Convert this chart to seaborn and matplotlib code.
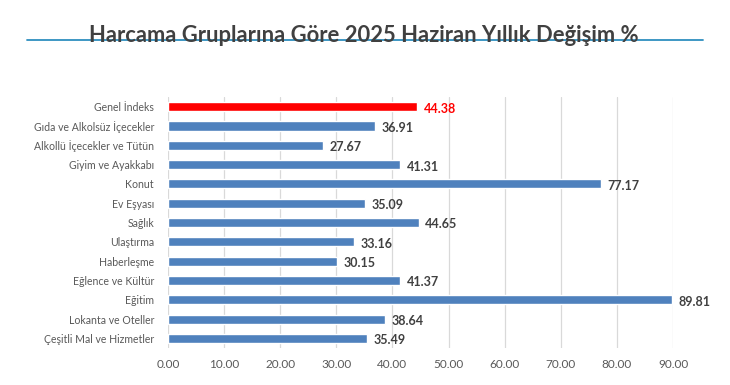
import matplotlib
matplotlib.use('Agg')
import matplotlib.pyplot as plt
import seaborn as sns
from matplotlib.lines import Line2D

categories = ['Genel İndeks', 'Gıda ve Alkolsüz İçecekler', 'Alkollü İçecekler ve Tütün',
              'Giyim ve Ayakkabı', 'Konut', 'Ev Eşyası', 'Sağlık', 'Ulaştırma',
              'Haberleşme', 'Eğlence ve Kültür', 'Eğitim', 'Lokanta ve Oteller',
              'Çeşitli Mal ve Hizmetler']
values = [44.38, 36.91, 27.67, 41.31, 77.17, 35.09, 44.65, 33.16, 30.15, 41.37, 89.81, 38.64, 35.49]
xticks = [0, 10, 20, 30, 40, 50, 60, 70, 80, 90]

sns.set_theme(style='white')
plt.rcParams['font.family'] = ['Lato', 'DejaVu Sans']

blue = '#4F81BD'
red = '#FF0000'
colors = [red] + [blue] * (len(categories) - 1)

fig = plt.figure(figsize=(7.3, 3.85), dpi=100)
ax = fig.add_axes([0.230, 0.096, 0.692, 0.652])

sns.barplot(x=values, y=categories, hue=categories, palette=colors, legend=False,
            width=0.47, saturation=1, ax=ax, zorder=3)

# value labels
for i, v in enumerate(values):
    ax.text(v + 1.2, i + 0.1, f'{v:.2f}', va='center', ha='left', fontsize=9,
            fontweight='bold', color=red if i == 0 else '#404040')

ax.set_xlim(0, 90)
ax.set_xticks(xticks)
ax.set_xticklabels([f'{t:.2f}' for t in xticks], fontsize=8.5, color='#595959')
ax.tick_params(axis='y', labelsize=7.6, labelcolor='#595959', length=0, pad=10)
ax.tick_params(axis='x', length=0, pad=8)
ax.grid(axis='x', color='#D9D9D9', linewidth=0.9, zorder=0)
ax.set_axisbelow(True)
for s in ax.spines.values():
    s.set_visible(False)
ax.set_xlabel('')
ax.set_ylabel('')

# title and rule under it
fig.text(0.499, 0.907, 'Harcama Gruplarına Göre 2025 Haziran Yıllık Değişim %',
         ha='center', va='center', fontsize=15.8, fontweight='bold', color='#404040')
fig.add_artist(Line2D([27 / 730, 703 / 730], [1 - 40 / 385, 1 - 40 / 385],
                      color='#2E8FBF', linewidth=1.3, transform=fig.transFigure))

fig.savefig('out.png', dpi=100)
